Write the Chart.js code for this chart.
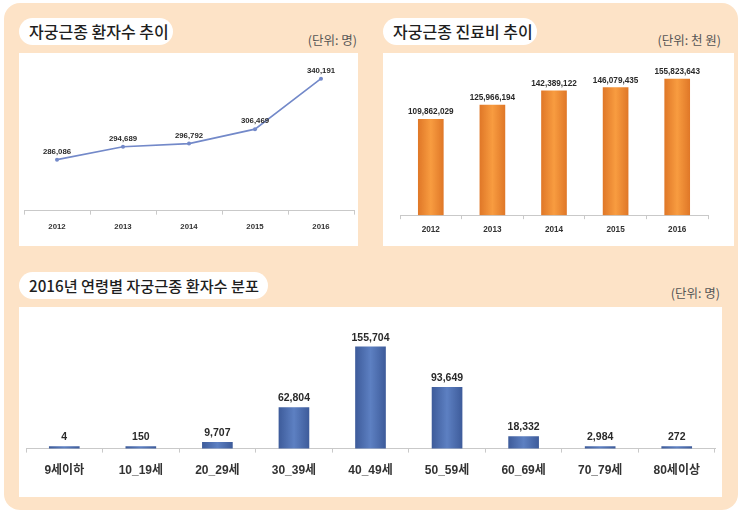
<!DOCTYPE html>
<html>
<head>
<meta charset="utf-8">
<script src="https://cdn.jsdelivr.net/npm/chart.js@4"></script>
<style>
  html, body { margin:0; padding:0; background:#fff; }
  body { width:743px; height:517px; position:relative; overflow:hidden; font-family:"Noto Sans CJK KR", sans-serif; }
  .bg { position:absolute; left:4px; top:3px; width:734px; height:507px; background:#FDE3C7; border-radius:16px; }
  .panel { position:absolute; background:#fff; }
  .pill { position:absolute; background:#fff; border-radius:14px; height:27px; line-height:27px; color:#1e1e1e; font-weight:500; font-size:16px; padding-left:10px; box-sizing:border-box; white-space:nowrap; }
  .unit { position:absolute; color:#555; font-size:12.5px; white-space:nowrap; text-align:right; }
  canvas { position:absolute; left:0; top:0; }
</style>
</head>
<body>
<div class="bg"></div>

<div class="pill" style="left:19px; top:18px; width:154px;">자궁근종 환자수 추이</div>
<div class="unit" style="right:386px; top:30px;">(단위: 명)</div>
<div class="panel" style="left:19px; top:53px; width:339px; height:193px;"><canvas id="c1" width="339" height="193"></canvas></div>

<div class="pill" style="left:383px; top:18px; width:154px;">자궁근종 진료비 추이</div>
<div class="unit" style="right:22px; top:30px;">(단위: 천 원)</div>
<div class="panel" style="left:383px; top:53px; width:351px; height:193px;"><canvas id="c2" width="351" height="193"></canvas></div>

<div class="pill" style="left:19px; top:272px; width:249px; font-size:15.2px;">2016년 연령별 자궁근종 환자수 분포</div>
<div class="unit" style="right:23px; top:283px;">(단위: 명)</div>
<div class="panel" style="left:19px; top:307px; width:703px; height:190px;"><canvas id="c3" width="703" height="190"></canvas></div>

<script>
// ---- data ----
const years = ['2012', '2013', '2014', '2015', '2016'];
const patients = [286086, 294689, 296792, 306469, 340191];
const costs = [109862029, 125966194, 142389122, 146079435, 155823643];
const ageGroups = ['9세이하', '10_19세', '20_29세', '30_39세', '40_49세', '50_59세', '60_69세', '70_79세', '80세이상'];
const agePatients = [4, 150, 9707, 62804, 155704, 93649, 18332, 2984, 272];

const NUMFONT = '"Liberation Sans", "Noto Sans CJK KR", sans-serif';

const valueLabels = {
  id: 'valueLabels',
  afterDatasetsDraw(chart, args, opts) {
    const ctx = chart.ctx;
    ctx.save();
    ctx.font = 'bold ' + opts.size + 'px ' + NUMFONT;
    ctx.fillStyle = opts.color || '#333';
    ctx.textAlign = 'center';
    ctx.textBaseline = 'bottom';
    chart.data.datasets.forEach((ds, di) => {
      const meta = chart.getDatasetMeta(di);
      meta.data.forEach((el, i) => {
        ctx.fillText(ds.data[i].toLocaleString('en-US'), el.x, el.y - opts.offset);
      });
    });
    ctx.restore();
  }
};

function xScale(fontSize, pad) {
  return {
    type: 'category',
    offset: true,
    border: { display: true, color: '#C9C9C9', width: 1 },
    grid: { display: true, offset: true, drawOnChartArea: false, drawTicks: true, tickLength: 4, color: '#C9C9C9' },
    ticks: { color: '#333', padding: pad, font: { family: NUMFONT, size: fontSize, weight: 'bold' }, maxRotation: 0, autoSkip: false }
  };
}

function barGradient(edge, center, half) {
  return function(context) {
    const chart = context.chart;
    const sx = chart.scales.x;
    if (!sx || context.dataIndex === undefined) return center;
    const x = sx.getPixelForValue(context.dataIndex);
    if (!isFinite(x)) return center;
    const g = chart.ctx.createLinearGradient(x - half, 0, x + half, 0);
    g.addColorStop(0, edge);
    g.addColorStop(0.5, center);
    g.addColorStop(1, edge);
    return g;
  };
}

Chart.defaults.animation = false;

new Chart(document.getElementById('c1'), {
  type: 'line',
  data: { labels: years, datasets: [{
    data: patients, borderColor: '#7389C9', backgroundColor: '#7389C9', borderWidth: 1.6,
    pointRadius: 2, pointBackgroundColor: '#7389C9', pointBorderWidth: 0, tension: 0
  }]},
  options: {
    responsive: false,
    layout: { padding: { left: 5, right: 4, top: 11, bottom: 6 } },
    plugins: { legend: { display: false }, tooltip: { enabled: false },
      valueLabels: { size: 7.8, offset: 4, color: '#2a2a2a' } },
    scales: {
      x: xScale(7.8, 8),
      y: { display: false, min: 252000, max: 350000 }
    }
  },
  plugins: [valueLabels]
});

new Chart(document.getElementById('c2'), {
  type: 'bar',
  data: { labels: years, datasets: [{
    data: costs, backgroundColor: barGradient('#E07828', '#F89C40', 12.5), barThickness: 25,
    borderWidth: 0
  }]},
  options: {
    responsive: false,
    layout: { padding: { left: 17, right: 26, top: 5, bottom: 5 } },
    plugins: { legend: { display: false }, tooltip: { enabled: false },
      valueLabels: { size: 8.2, offset: 3, color: '#2a2a2a' } },
    scales: {
      x: xScale(8.2, 6),
      y: { display: false, min: 0, max: 180000000 }
    }
  },
  plugins: [valueLabels]
});

new Chart(document.getElementById('c3'), {
  type: 'bar',
  data: { labels: ageGroups, datasets: [{
    data: agePatients, backgroundColor: barGradient('#3E5C9B', '#5D80C2', 15), barThickness: 30,
    minBarLength: 2, borderWidth: 0
  }]},
  options: {
    responsive: false,
    layout: { padding: { left: 7, right: 7, top: 24, bottom: 8 } },
    plugins: { legend: { display: false }, tooltip: { enabled: false },
      valueLabels: { size: 10.5, offset: 4, color: '#2a2a2a' } },
    scales: {
      x: xScale(12, 11),
      y: { display: false, min: 0, max: 180000 }
    }
  },
  plugins: [valueLabels]
});
</script>
</body>
</html>
